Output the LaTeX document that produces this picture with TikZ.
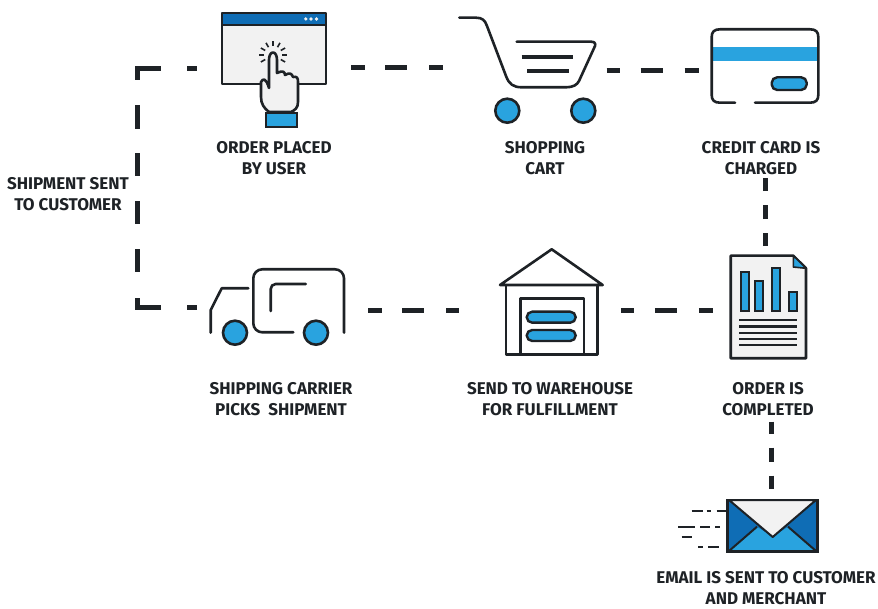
\documentclass[tikz,border=0pt]{standalone}
\usepackage{fontspec}
\setmainfont{Fira Sans}
\definecolor{ink}{HTML}{1E2226}
\definecolor{sky}{HTML}{29A3DF}
\definecolor{navy}{HTML}{0F6DB5}
\definecolor{paper}{HTML}{F2F2F2}
\tikzset{
  x=1pt,y=-1pt,
  iconline/.style={draw=ink,line width=2.6pt,line join=round,line cap=round},
  slot/.style={draw=none,rectangle,inner sep=0pt,outer sep=0pt},
  link/.style={draw=ink,line width=5pt,line cap=butt},
  tag/.style={font=\bfseries\fontsize{17}{21}\selectfont,text=ink,align=center,inner sep=0pt},
  wheel/.style={circle,draw=ink,fill=sky,line width=2.6pt,minimum size=24pt,inner sep=0pt},
  pill/.style={rounded corners=5.5pt,draw=ink,fill=sky,line width=2.4pt},
}
\begin{document}
\begin{tikzpicture}
\useasboundingbox (0,0) rectangle (878,609);
% invisible slots that carry the connector ends
\node[slot,minimum width=154pt,minimum height=120pt] (order) at (274,67.5) {};
\node[slot,minimum width=163pt,minimum height=100pt] (cart) at (525,70.5) {};
\node[slot,minimum width=120pt,minimum height=77.5pt] (card) at (765,70.5) {};
\node[slot,minimum width=171pt,minimum height=70pt] (truck) at (282.5,310.5) {};
\node[slot,minimum width=161.5pt,minimum height=110pt] (house) at (540,310.5) {};
\node[slot,minimum width=118pt,minimum height=175.5pt] (doc) at (771.7,333.9) {};
\node[slot,minimum width=100pt,minimum height=70pt] (mail) at (771.7,524) {};
\coordinate (cornerB) at (137,308);
\coordinate (cornerT) at (137,69);
% labels
\node[tag] (t1) at (274,158.5) {ORDER PLACED\\BY USER};
\node[tag] (t2) at (545,158.5) {SHOPPING\\CART};
\node[tag] (t3) at (761,158.5) {CREDIT CARD IS\\CHARGED};
\node[tag] (t4) at (68,194) {SHIPMENT SENT\\TO CUSTOMER};
\node[tag] (t5) at (281,399) {SHIPPING CARRIER\\PICKS~~SHIPMENT};
\node[tag] (t6) at (550,399) {SEND TO WAREHOUSE\\FOR FULFILLMENT};
\node[tag] (t7) at (768,399) {ORDER IS\\COMPLETED};
\node[tag] (t8) at (766,588) {EMAIL IS SENT TO CUSTOMER\\AND MERCHANT};
% connectors
\draw[link,dash pattern=on 14pt off 20pt on 22pt off 22pt on 14pt] (order.east) -- (order.east -| cart.west);
\draw[link,dash pattern=on 13pt off 21pt on 22pt off 22pt on 14pt] (cart.east) -- (card.west);
\draw[link,dash pattern=on 14pt off 20pt on 22pt off 22pt on 14pt] (truck.east) -- (house.west);
\draw[link,dash pattern=on 13pt off 21pt on 22pt off 22pt on 14pt] (house.east) -- (house.east -| doc.west);
\draw[link,dash pattern=on 13pt off 14pt on 14pt off 14pt on 13pt] (card |- doc.north) -- ++(0,-68);
\draw[link,dash pattern=on 12.5pt off 13.5pt on 14.5pt off 13.5pt on 13pt] (doc.south) -- (mail.north);
\draw[link,dash pattern=on 10pt off 26pt on 34pt off 26pt on 23pt off 25pt on 23pt off 25pt on 23pt off 24pt on 24pt off 25pt on 35pt off 26pt on 10pt]
  ([yshift=2.5pt]truck.west) -- (cornerB) -- (cornerT) -- ([yshift=-1.5pt]order.west);
% order icon
\fill[paper] (222,13) rectangle (326,84);
\fill[navy] (222,13) rectangle (326,24);
\draw[iconline] (222,13) rectangle (326,84);
\draw[ink,line width=2pt] (222,25) -- (326,25);
\fill[paper] (305.8,19) circle (1.8pt) (311,19) circle (1.8pt) (316.5,19) circle (1.8pt);
\draw[iconline,fill=paper] (269,60) .. controls (269,50) and (277,50) .. (277,60) -- (277,73)
  .. controls (283,70) and (285,72) .. (285,75) .. controls (290,72) and (292,74) .. (293,77)
  .. controls (297,76) and (298,78) .. (298,82) -- (298,102) .. controls (298,108) and (295,110) .. (291,112)
  -- (269,112) .. controls (264,108) and (261,104) .. (261,97) -- (261,82) .. controls (263,78) and (266,78) .. (269,88) -- cycle;
\fill[sky] (266,113) rectangle (297,127);
\draw[ink,line width=2pt] (266,113) rectangle (297,127);
\foreach \a in {-30,0,30,60,90,120,150,180,210}
  \draw[ink,line width=1.6pt] (273,55) ++(\a:9pt) -- ++(\a:5pt);
% cart
\draw[iconline] (459.3,17.7) -- (476,17.7) .. controls (482,17.7) and (485,20) .. (487,26) -- (506,76)
  .. controls (509,84) and (513,87.3) .. (522,87.3) -- (566,87.3) .. controls (573,87.3) and (577,85) .. (579,81)
  -- (595,46) .. controls (596,43) and (594,41.7) .. (591,41.7) -- (516.7,41.7);
\draw[ink,line width=4pt] (521.7,57.3) -- (572.7,57.3);
\draw[ink,line width=4pt] (527.3,70.7) -- (569.3,70.7);
\node[wheel] (wa) at (507.3,110.7) {};
\node[wheel] (wb) at (583.3,110.7) {};
% card
\fill[sky] (712,46.7) rectangle (818,61);
\draw[iconline] (735,102.7) -- (720,102.7) .. controls (714,102.7) and (711.7,100) .. (711.7,95) -- (711.7,37)
  .. controls (711.7,32) and (714,29.3) .. (720,29.3) -- (810,29.3) .. controls (816,29.3) and (818.3,32) .. (818.3,37)
  -- (818.3,95) .. controls (818.3,100) and (816,102.7) .. (810,102.7) -- (755,102.7);
\draw[pill] (771.7,77.3) rectangle (806.7,90);
% truck
\draw[iconline] (210.7,332.7) -- (210.7,310) -- (221.7,288.3) -- (248.3,288.3);
\draw[iconline,rounded corners=9pt] (293.3,332.3) -- (253.3,332.3) -- (253.3,269.3) -- (344,269.3) -- (344,332.7);
\draw[iconline,rounded corners=5pt] (270.7,311) -- (270.7,284) -- (305.7,284);
\node[wheel] (ta) at (235,332.7) {};
\node[wheel] (tb) at (316,332.7) {};
% warehouse
\draw[iconline] (500,285) -- (551.7,249.3) -- (602.7,285) -- cycle;
\draw[iconline] (506,285) -- (506,354.3) -- (597.3,354.3) -- (597.3,285);
\draw[iconline] (520.7,354.3) -- (520.7,298.3) -- (584,298.3) -- (584,354.3);
\draw[pill] (526.7,311.7) rectangle (575.7,322.7);
\draw[pill] (526.7,330) rectangle (575.7,341);
% document
\draw[iconline,fill=paper] (730.7,255.7) -- (793.3,255.7) -- (806,268.3) -- (806,358.3) -- (730.7,358.3) -- cycle;
\draw[ink,fill=sky,line width=1.6pt,line join=round] (793.3,255.7) -- (793.3,267) -- (806,268.3) -- cycle;
\foreach \xa/\xb/\yt in {741/748.7/272.3,755.3/763/280.7,771.7/780/268.3,788.7/796.7/292.3}
  \draw[ink,fill=sky,line width=2pt] (\xa,\yt) rectangle (\xb,311);
\foreach \yy in {320,326.7,333.3,339.3,345.3}
  \draw[ink,line width=2.4pt] (739.3,\yy) -- (797.3,\yy);
% envelope
\fill[navy] (727.3,500) rectangle (817.7,551.7);
\fill[sky] (729,551.7) -- (756.7,526.7) -- (772.7,536.7) -- (788.3,526.7) -- (816,551.7) -- cycle;
\draw[ink,line width=2pt,fill=paper,line join=round] (729,500) -- (772.7,537) -- (816,500) -- cycle;
\draw[ink,line width=2pt] (729,551) -- (757,526.7) (816,551) -- (788,526.7);
\draw[ink,line width=2.6pt] (727.3,500) rectangle (817.7,551.7);
\foreach \xa/\xb/\yy in {691.7/703.3/510.7,706.7/710.7/510.7,716.7/727.3/510.7,678.3/695/526.7,700/710/526.7,715/720/526.7,681.7/691.7/536.7,698.3/703.3/546.7,708.3/719/546.7}
  \draw[ink,line width=2.4pt] (\xa,\yy) -- (\xb,\yy);
\end{tikzpicture}
\end{document}
